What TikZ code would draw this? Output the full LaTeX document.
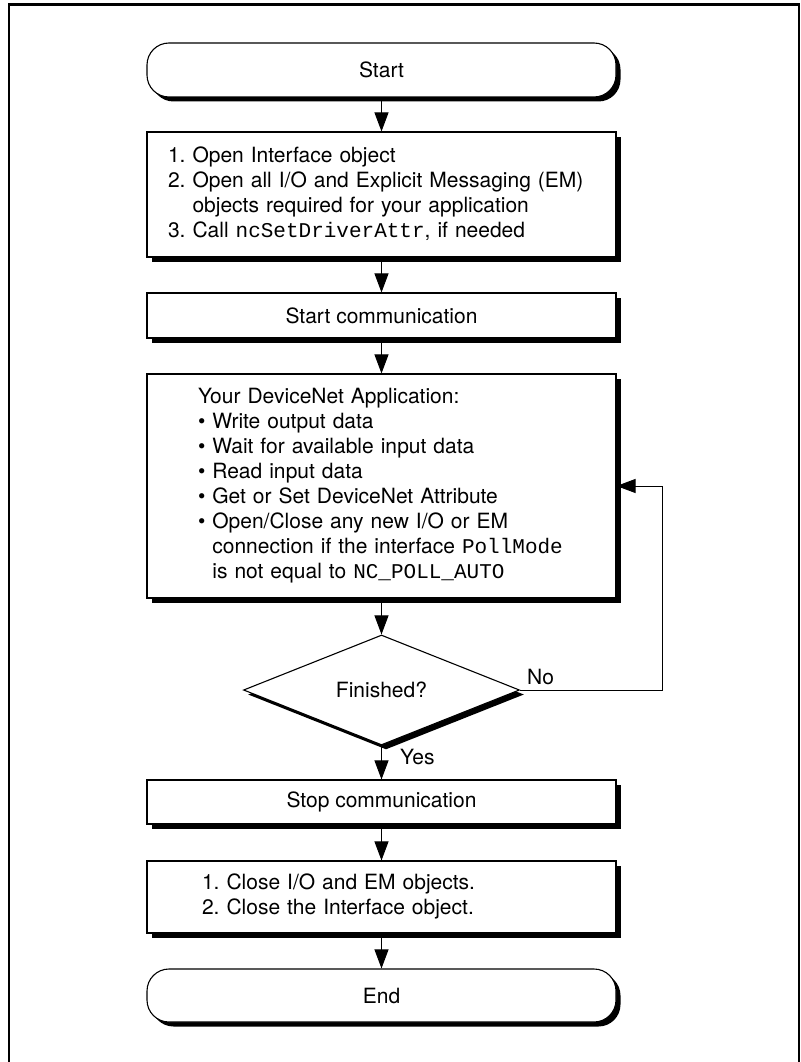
\documentclass[tikz,border=0pt]{standalone}
\usepackage{fontspec}
\setmainfont{TeX Gyre Heros}
\setmonofont{Liberation Mono}
\usetikzlibrary{shapes.geometric,arrows.meta,shadows}

\begin{document}
\begin{tikzpicture}[x=1pt,y=-1pt,
  font=\fontsize{21}{25}\selectfont,
  shadowed/.style={drop shadow={shadow xshift=4.5pt,shadow yshift=-4.5pt,opacity=1,fill=black}},
  terminal/.style={draw=black,line width=1.1pt,fill=white,rectangle,rounded corners=22pt,
    minimum width=469pt,inner sep=0pt,shadowed},
  stepbox/.style={draw=black,line width=1.1pt,fill=white,rectangle,
    minimum width=469pt,inner sep=0pt,shadowed},
  listbox/.style={stepbox,inner xsep=#1,text width=469pt-2*#1,align=left},
  decision/.style={draw=black,line width=1.1pt,fill=white,diamond,
    minimum width=276pt,minimum height=110pt,inner sep=0pt,shadowed},
  flow/.style={line width=1pt,-{Triangle[length=19pt,width=14pt]}},
  frameline/.style={line width=2.6pt,line join=miter,line cap=butt}]

  \useasboundingbox (0,0) rectangle (800,1062);

  % page frame, open at the bottom
  \draw[frameline] (9,1062) -- (9,4.5) -- (799,4.5) -- (799,1062);

  % flow chart nodes
  \node[terminal,minimum height=54pt] (start) at (381.5,70) {Start};

  \node[listbox=21pt,minimum height=125pt] (open) at (381.5,194.5) {\noindent
    \begin{tabular}{@{}l@{\ }l@{}}
      1. & Open Interface object\\
      2. & Open all I/O and Explicit Messaging (EM)\\
         & objects required for your application\\
      3. & Call \texttt{ncSetDriverAttr}, if needed
    \end{tabular}};

  \node[stepbox,minimum height=45pt] (startcomm) at (381.5,315.5) {Start communication};

  \node[listbox=51pt,minimum height=224pt] (app) at (381.5,486) {\noindent
    \begin{tabular}{@{}l@{\ }l@{}}
      \multicolumn{2}{@{}l@{}}{Your DeviceNet Application:}\\
      • & Write output data\\
      • & Wait for available input data\\
      • & Read input data\\
      • & Get or Set DeviceNet Attribute\\
      • & Open/Close any new I/O or EM\\
        & connection if the interface \texttt{PollMode}\\
        & is not equal to \texttt{NC\_POLL\_AUTO}
    \end{tabular}};

  \node[decision] (done) at (381.5,690) {Finished?};

  \node[stepbox,minimum height=44pt] (stopcomm) at (381.5,802) {Stop communication};

  \node[listbox=55pt,minimum height=72pt] (close) at (381.5,897) {\noindent
    \begin{tabular}{@{}l@{\ }l@{}}
      1. & Close I/O and EM objects.\\
      2. & Close the Interface object.
    \end{tabular}};

  \node[terminal,minimum height=53pt] (end) at (381.5,995.5) {End};

  % branch labels
  \node[anchor=west,inner sep=0pt] (yes) at (400,757) {Yes};
  \node[anchor=west,inner sep=0pt] (no) at (527,677) {No};

  % connectors
  \draw[flow] (start.south) -- (open.north);
  \draw[flow] (open.south) -- (startcomm.north);
  \draw[flow] (startcomm.south) -- (app.north);
  \draw[flow] (app.south) -- (done.north);
  \draw[flow] (done.south) -- (stopcomm.north);
  \draw[flow] (stopcomm.south) -- (close.north);
  \draw[flow] (close.south) -- (end.north);

  % loop back when not finished
  \coordinate (loop) at (662,486);
  \draw[flow] (done.east) -| (loop) -- (app.east);
\end{tikzpicture}
\end{document}
